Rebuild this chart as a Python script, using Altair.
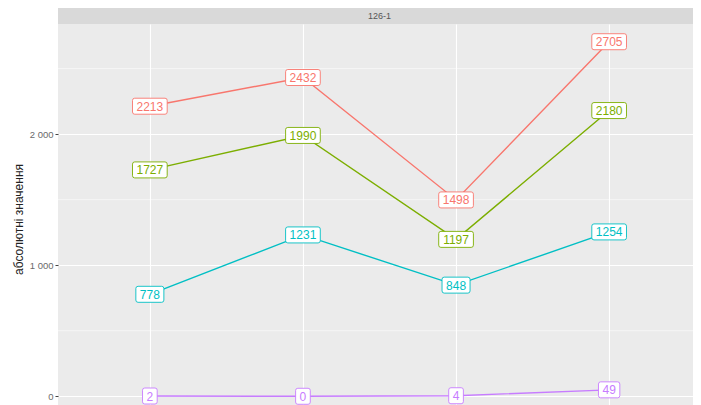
import altair as alt
import pandas as pd

# ---- data ----
panel_title = "126-1"
x_positions = ["1", "2", "3", "4"]          # category labels are cut off in the reference
series_names = ["ряд 1", "ряд 2", "ряд 3", "ряд 4"]
series_colors = ["#F8766D", "#7CAE00", "#00BFC4", "#C77CFF"]
values_1 = [2213, 2432, 1498, 2705]
values_2 = [1727, 1990, 1197, 2180]
values_3 = [778, 1231, 848, 1254]
values_4 = [2, 0, 4, 49]
y_title = "абсолютні значення"
y_major = [0, 1000, 2000]

all_values = [values_1, values_2, values_3, values_4]
rows = []
for name, vals in zip(series_names, all_values):
    for i, v in enumerate(vals):
        rows.append({"series": name, "xi": i, "cat": x_positions[i], "value": v,
                     "label": str(v), "digits": str(len(str(v)))})
df = pd.DataFrame(rows)

vmin, vmax = df["value"].min(), df["value"].max()
span = vmax - vmin
y_domain = [vmin - 0.05 * span, vmax + 0.05 * span]

FULL_W = 643            # full panel width in the reference (cropped at the page edge)
W, H = 635, 390
STRIP = 16
n = len(x_positions)
x_full = [-0.6, n - 1 + 0.6]
x_domain = [x_full[0], x_full[0] + (x_full[1] - x_full[0]) * W / FULL_W]
y_minor = [(a + b) / 2 for a, b in zip(y_major, y_major[1:] + [y_major[-1] + (y_major[1] - y_major[0])])]

# rounded rectangle label boxes (custom symbol paths, unit = sqrt(size)/2 px)
BOX_SIZE = 35 * 35
unit = 35 / 2.0
def box_path(k):
    w = k * 0.556 * 12 + 8
    h = 16
    hw, hh, r = w / 2 / unit, h / 2 / unit, 2.2 / unit
    f = lambda v: f"{v:.4f}"
    return (f"M{f(-hw + r)},{f(-hh)}L{f(hw - r)},{f(-hh)}Q{f(hw)},{f(-hh)} {f(hw)},{f(-hh + r)}"
            f"L{f(hw)},{f(hh - r)}Q{f(hw)},{f(hh)} {f(hw - r)},{f(hh)}"
            f"L{f(-hw + r)},{f(hh)}Q{f(-hw)},{f(hh)} {f(-hw)},{f(hh - r)}"
            f"L{f(-hw)},{f(-hh + r)}Q{f(-hw)},{f(-hh)} {f(-hw + r)},{f(-hh)}Z")

digit_domain = ["1", "2", "3", "4"]
shape_range = [box_path(int(d)) for d in digit_domain]

color_scale = alt.Scale(domain=series_names, range=series_colors)
x_enc = alt.X("xi:Q", scale=alt.Scale(domain=x_domain, nice=False, zero=False),
              axis=alt.Axis(values=list(range(n)), labels=False, ticks=False,
                            domain=False, grid=True, gridColor="white", gridWidth=1.1, title=None))
y_enc = alt.Y("value:Q", scale=alt.Scale(domain=y_domain, nice=False, zero=False),
              axis=alt.Axis(values=y_major, domain=False, grid=True, gridColor="white", gridWidth=1.1,
                            tickColor="#444", tickSize=3, tickWidth=1,
                            labelExpr="replace(format(datum.value, ','), ',', ' ')",
                            labelFont="Liberation Sans", labelFontSize=9.5, labelColor="#6a6a6a",
                            labelPadding=2,
                            title=y_title, titleFont="Liberation Sans", titleFontSize=12,
                            titleFontWeight="normal", titleColor="#222", titleBaseline="middle",
                            titleX=-40))

base = alt.Chart(df)

minor = alt.Chart(pd.DataFrame({"m": y_minor})).mark_rule(color="white", strokeWidth=0.55).encode(
    y=alt.Y("m:Q", scale=alt.Scale(domain=y_domain, nice=False, zero=False)))

lines = base.mark_line(strokeWidth=1.4).encode(
    x=x_enc, y=y_enc, color=alt.Color("series:N", scale=color_scale, legend=None),
    order="xi:Q")

boxes = base.mark_point(filled=True, fill="white", fillOpacity=1, opacity=1,
                        strokeWidth=0.9, size=BOX_SIZE).encode(
    x="xi:Q", y="value:Q",
    stroke=alt.Stroke("series:N", scale=color_scale, legend=None),
    shape=alt.Shape("digits:N", scale=alt.Scale(domain=digit_domain, range=shape_range), legend=None))

texts = base.mark_text(font="Liberation Sans", fontSize=12, baseline="middle", align="center",
                       dy=0.5).encode(
    x="xi:Q", y="value:Q", text="label:N",
    color=alt.Color("series:N", scale=color_scale, legend=None))

strip_df = pd.DataFrame({"t": [panel_title]})
strip = alt.Chart(strip_df).mark_rect(color="#D9D9D9").encode(
    x=alt.value(0), x2=alt.value(W), y=alt.value(-STRIP), y2=alt.value(0))
strip_text = alt.Chart(strip_df).mark_text(font="Liberation Sans", fontSize=9, color="#555",
                                           baseline="middle").encode(
    x=alt.value((FULL_W) / 2), y=alt.value(-STRIP / 2), text="t:N")

chart = alt.layer(minor, lines, boxes, texts, strip, strip_text).properties(
    width=W, height=H,
    autosize=alt.AutoSizeParams(type="none"),
    padding={"left": 50, "top": STRIP, "right": 0, "bottom": 0},
    background="white",
).configure_view(fill="#EBEBEB", stroke=None)

chart.save("out.html", embed_options={"renderer": "svg", "actions": False})
